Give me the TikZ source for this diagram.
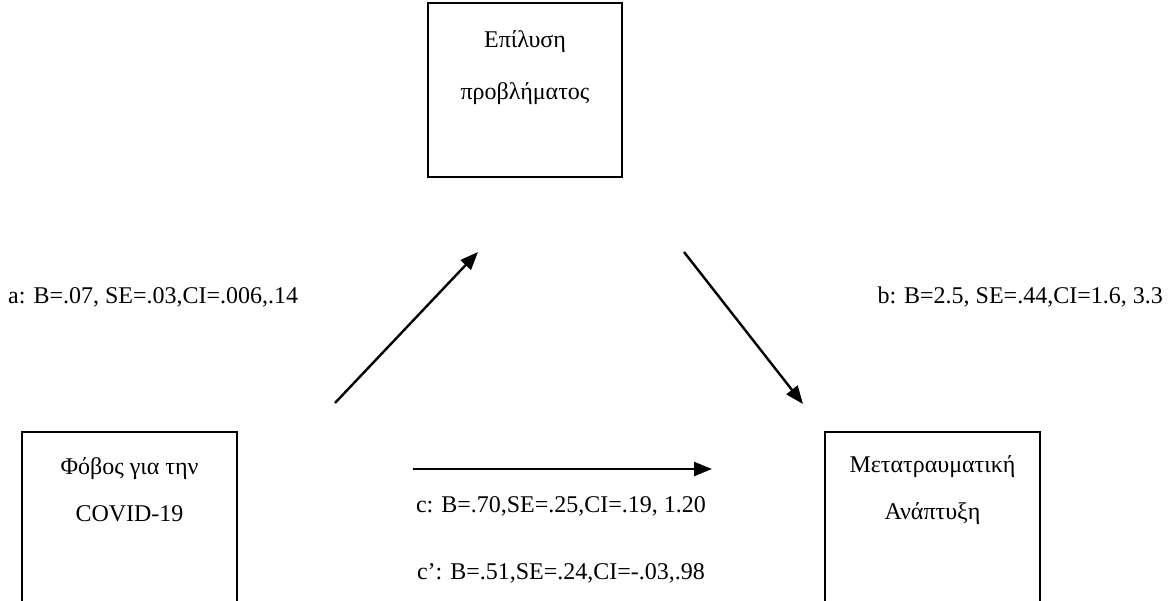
\documentclass[tikz,border=0pt]{standalone}
\usepackage{fontspec}
\setmainfont{Liberation Serif}
\usetikzlibrary{arrows.meta}
\tikzset{
  varbox/.style={draw, line width=1.6pt, rectangle, inner sep=0pt},
  boxtext/.style={align=center, font=\fontsize{24}{47}\selectfont, inner sep=0pt},
  coef/.style={font=\fontsize{24}{28}\selectfont, inner sep=0pt},
  path/.style={line width=2.4pt, -{Triangle[length=18pt,width=14pt]}}
}
\begin{document}
\begin{tikzpicture}[x=1pt,y=-1pt]
\useasboundingbox (0,0) rectangle (1170,601);
\fill[white] (0,0) rectangle (1170,601);
\begin{scope}
\clip (0,0) rectangle (1170,601);
% variables
\node[varbox, minimum width=194pt, minimum height=174pt] (med) at (525,90) {};
\node[varbox, minimum width=215pt, minimum height=200pt] (fear) at (129.5,532) {};
\node[varbox, minimum width=215pt, minimum height=200pt] (growth) at (932.5,532) {};
\end{scope}
\node[boxtext, font=\fontsize{24}{52}\selectfont] (medtext) at (525,68) {Επίλυση\\προβλήματος};
\node[boxtext] (feartext) at (129.5,490) {Φόβος για την\\COVID-19};
\node[boxtext] (growthtext) at (932.5,490) {Μετατραυματική\\Ανάπτυξη};
% arrow end points
\coordinate (a1) at (335,403);
\coordinate (a2) at (478,252);
\coordinate (b1) at (684,252);
\coordinate (b2) at (803,404);
\coordinate (c1) at (413,469);
\coordinate (c2) at (712,469);
\draw[path] (a1) -- (a2);
\draw[path] (b1) -- (b2);
\draw[path] (c1) -- (c2);
% coefficients
\node[coef, anchor=west] (alab) at (8,297) {a: B=.07, SE=.03,CI=.006,.14};
\node[coef, anchor=east] (blab) at (1163,297) {b: B=2.5, SE=.44,CI=1.6, 3.3};
\node[coef] (clab) at (561,506) {c: B=.70,SE=.25,CI=.19, 1.20};
\node[coef] (cplab) at (561,573) {c’: B=.51,SE=.24,CI=-.03,.98};
\end{tikzpicture}
\end{document}
